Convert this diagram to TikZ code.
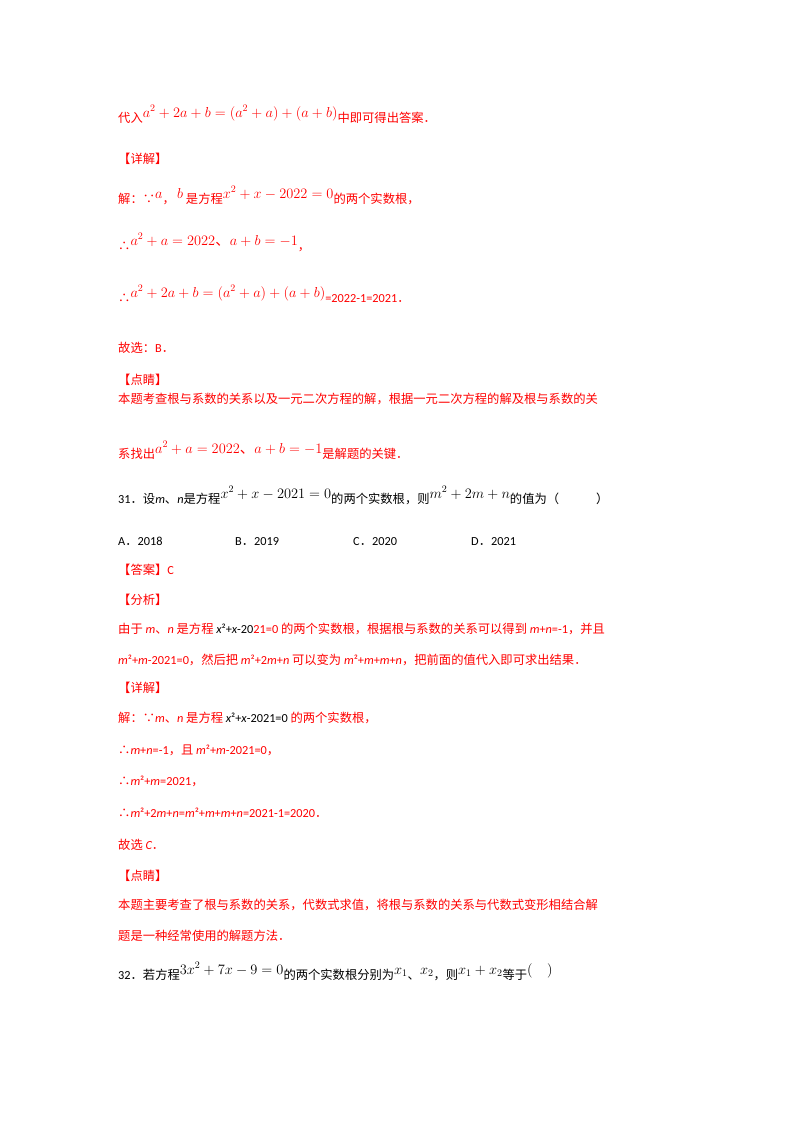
\documentclass[tikz,border=0pt]{standalone}
\usepackage{fontspec}
\setmainfont{Noto Sans CJK SC}
\newfontfamily\lat{Carlito}
\newcommand{\rb}[1]{\raisebox{5pt}{\fontsize{14.5}{17}\selectfont$#1$}}
\newcommand{\mi}[1]{{\lat\itshape #1}}
\newcommand{\la}[1]{{\lat #1}}
\begin{document}
\begin{tikzpicture}[x=1pt,y=-1pt,
  ln/.style={anchor=base west,inner sep=0pt,font=\fontsize{12.3}{14}\selectfont},
  rd/.style={ln,text=red}, bk/.style={ln,text=black}]
\useasboundingbox[fill=white] (0,0) rectangle (800,1132);
\node[rd] (l1) at (118,122) {代入\rb{a^2+2a+b=(a^2+a)+(a+b)}中即可得出答案．};
\node[rd] (l2) at (118,163) {【详解】};
\node[rd] (l3) at (118,203) {解：∵\rb{a}，\rb{\,b}\ 是方程\rb{x^2+x-2022=0}的两个实数根，};
\node[rd] (l4) at (118,250) {∴\rb{a^2+a=2022\mbox{、}a+b=-1}，};
\node[rd] (l5) at (118,302) {∴\rb{a^2+2a+b=(a^2+a)+(a+b)}\la{=2022-1=2021}．};
\node[rd] (l6) at (118,352) {故选：\la{B}．};
\node[rd] (l7) at (118,384) {【点睛】};
\node[rd] (l8) at (118,403) {本题考查根与系数的关系以及一元二次方程的解，根据一元二次方程的解及根与系数的关};
\node[rd] (l9) at (118,458) {系找出\rb{a^2+a=2022\mbox{、}a+b=-1}是解题的关键．};
\node[bk] (q31) at (118,503) {\la{31}．设\mi{m}、\mi{n}是方程\rb{x^2+x-2021=0}的两个实数根，则\rb{m^2+2m+n}的值为（\hspace{3em}）};
\node[bk] (oa) at (118,545) {\la{A}．\la{2018}};
\node[bk] (ob) at (235,545) {\la{B}．\la{2019}};
\node[bk] (oc) at (353,545) {\la{C}．\la{2020}};
\node[bk] (od) at (471,545) {\la{D}．\la{2021}};
\node[rd] (a1) at (118,574) {【答案】\la{C}};
\node[rd] (a2) at (118,604) {【分析】};
\node[rd] (a3) at (118,633) {由于 \mi{m}、\mi{n} 是方程 {\color{black}\mi{x}\la{²+}\mi{x}\la{-20}}\la{21=0} 的两个实数根，根据根与系数的关系可以得到 \mi{m}\la{+}\mi{n}\la{=-1}，并且};
\node[rd] (a4) at (118,664) {\mi{m}\la{²+}\mi{m}\la{-2021=0}，然后把 \mi{m}\la{²+2}\mi{m}\la{+}\mi{n} 可以变为 \mi{m}\la{²+}\mi{m}\la{+}\mi{m}\la{+}\mi{n}，把前面的值代入即可求出结果．};
\node[rd] (a5) at (118,692) {【详解】};
\node[rd] (a6) at (118,722) {解：∵\mi{m}、\mi{n} 是方程 {\color{black}\mi{x}\la{²+}\mi{x}\la{-2021=0}} 的两个实数根，};
\node[rd] (a7) at (118,754) {∴\mi{m}\la{+}\mi{n}\la{=-1}，且 \mi{m}\la{²+}\mi{m}\la{-2021=0}，};
\node[rd] (a8) at (118,785) {∴\mi{m}\la{²+}\mi{m}\la{=2021}，};
\node[rd] (a9) at (118,817) {∴\mi{m}\la{²+2}\mi{m}\la{+}\mi{n}\la{=}\mi{m}\la{²+}\mi{m}\la{+}\mi{m}\la{+}\mi{n}\la{=2021-1=2020}．};
\node[rd] (a10) at (118,849) {故选 \mi{C}．};
\node[rd] (a11) at (118,880) {【点睛】};
\node[rd] (a12) at (118,909) {本题主要考查了根与系数的关系，代数式求值，将根与系数的关系与代数式变形相结合解};
\node[rd] (a13) at (118,940) {题是一种经常使用的解题方法．};
\node[bk] (q32) at (118,979) {\la{32}．若方程\rb{3x^2+7x-9=0}的两个实数根分别为\rb{x_1}、\rb{x_2}，则\rb{x_1+x_2}等于\rb{(\quad)}};
\end{tikzpicture}
\end{document}
